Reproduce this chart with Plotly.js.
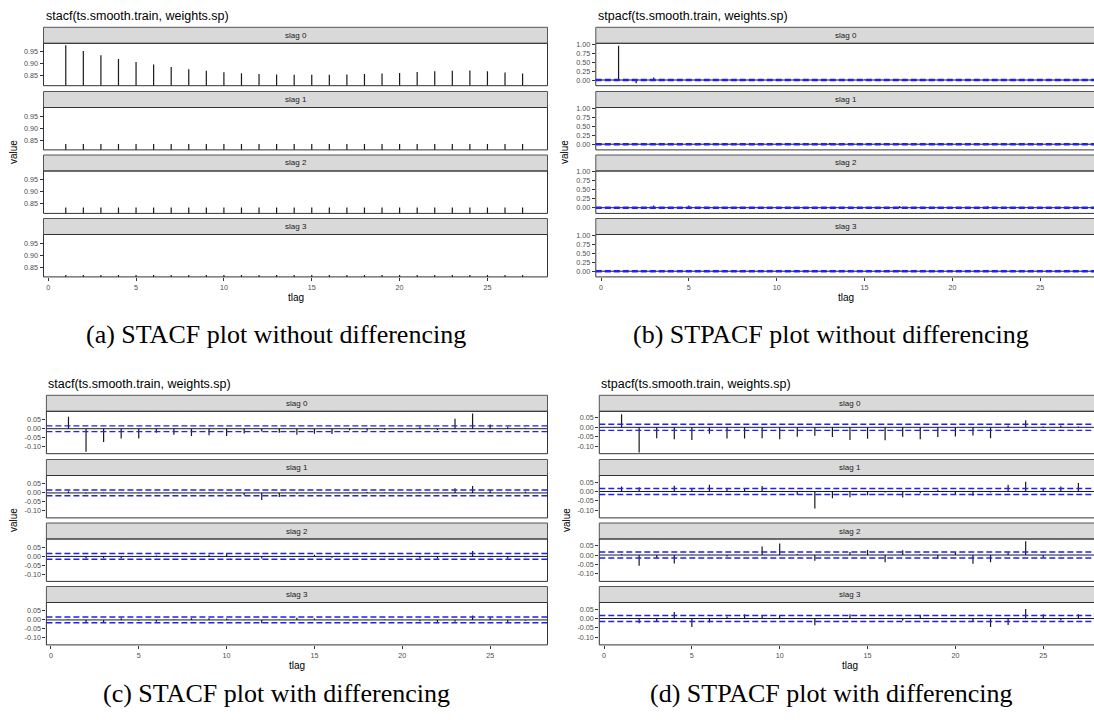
<!DOCTYPE html>
<html><head><meta charset="utf-8">
<script src="https://cdn.plot.ly/plotly-3.0.1.min.js"></script>
<style>html,body{margin:0;padding:0;background:#fff;}#chart{width:1094px;height:720px;}</style>
</head><body><div id="chart"></div>
<script>
// ---------- data ----------
const lags = [1,2,3,4,5,6,7,8,9,10,11,12,13,14,15,16,17,18,19,20,21,22,23,24,25,26,27];
const slagLabels = ['slag 0','slag 1','slag 2','slag 3'];
const xTickVals = [0,5,10,15,20,25];
const xTickText = ['0','5','10','15','20','25'];

const stacfRawTicks = [0.85,0.90,0.95];
const stacfRawTickText = ['0.85','0.90','0.95'];
const stpacfRawTicks = [0,0.25,0.5,0.75,1];
const stpacfRawTickText = ['0.00','0.25','0.50','0.75','1.00'];
const diffTicks = [-0.10,-0.05,0,0.05];
const diffTickText = ['-0.10','-0.05','0.00','0.05'];
const confBound = 0.016;

// (a) STACF without differencing
const stacfRaw0 = [0.978,0.954,0.936,0.920,0.908,0.897,0.887,0.878,0.871,0.865,0.861,0.858,0.856,0.855,0.855,0.855,0.856,0.858,0.860,0.862,0.866,0.869,0.871,0.872,0.869,0.864,0.860];
const stacfRaw1 = [0.834,0.834,0.834,0.834,0.834,0.834,0.834,0.834,0.834,0.834,0.834,0.834,0.834,0.834,0.834,0.834,0.834,0.834,0.834,0.834,0.834,0.834,0.834,0.834,0.834,0.834,0.834];
const stacfRaw2 = [0.834,0.834,0.834,0.834,0.834,0.834,0.834,0.834,0.834,0.834,0.834,0.834,0.834,0.834,0.834,0.834,0.834,0.834,0.834,0.834,0.834,0.834,0.834,0.834,0.834,0.834,0.834];
const stacfRaw3 = [0.817,0.817,0.817,0.817,0.817,0.817,0.817,0.817,0.817,0.817,0.817,0.817,0.817,0.817,0.817,0.817,0.817,0.817,0.817,0.817,0.817,0.817,0.817,0.817,0.817,0.817,0.817];

// (b) STPACF without differencing
const stpacfRaw0 = [0.955,-0.09,0.07,0.004,0.003,0.002,0.003,0.002,0.003,0.004,0.012,0.003,0.002,0.004,0.012,0.010,0.015,0.004,0.010,0.008,0.010,0.012,0.010,0.004,0.006,0.003,0.004];
const stpacfRaw1 = [0.010,0.002,0.003,0.002,0.003,0.004,-0.030,0.003,0.002,-0.012,0.003,0.004,0.035,0.003,0.002,0.008,0.010,0.002,0.003,0.004,0.012,0.002,0.003,0.002,0.004,-0.015,-0.025];
const stpacfRaw2 = [0.010,0.002,0.060,0.003,0.060,0.002,-0.020,0.020,0.003,-0.012,-0.030,0.002,0.003,0.004,0.002,0.003,0.050,0.002,0.003,0.010,0.002,0.040,0.002,0.003,-0.035,0.002,-0.025];
const stpacfRaw3 = [0.002,0.003,0.012,0.002,0.003,0.008,0.002,0.003,0.002,0.003,-0.010,0.002,0.010,0.003,0.002,0.003,0.025,0.002,0.003,0.002,0.003,0.020,0.015,0.003,-0.025,0.002,-0.020];

// (c) STACF with differencing
const stacfDiff0 = [0.067,-0.128,-0.074,-0.054,-0.055,-0.022,-0.033,-0.040,-0.037,-0.040,-0.026,-0.015,-0.022,-0.033,-0.028,-0.030,-0.009,-0.011,-0.005,-0.002,0.011,-0.007,0.055,0.085,0.024,0.011,0.006];
const stacfDiff1 = [0.010,-0.004,0.002,0.001,-0.002,0.001,0.002,0.001,0.002,-0.005,-0.013,-0.040,-0.022,-0.005,0.002,0.001,0.002,0.005,0.002,0.001,0.002,0.001,0.026,0.039,0.015,0.002,0.008];
const stacfDiff2 = [0.002,-0.012,-0.010,-0.010,0.002,0.005,0.001,0.002,0.010,0.018,0.001,-0.012,0.001,0.002,0.010,-0.008,0.001,0.002,-0.005,0.001,-0.010,-0.012,0.002,0.030,-0.005,-0.012,-0.005];
const stacfDiff3 = [0.002,-0.012,-0.012,0.010,-0.005,-0.010,0.002,0.010,0.010,0.008,0.001,-0.018,0.001,0.012,0.008,0.001,-0.003,0.001,0.002,0.001,-0.008,-0.018,-0.010,0.025,0.015,-0.012,-0.005];

// (d) STPACF with differencing
const stpacfDiff0 = [0.070,-0.133,-0.058,-0.063,-0.067,-0.034,-0.059,-0.059,-0.058,-0.063,-0.050,-0.045,-0.052,-0.067,-0.061,-0.068,-0.050,-0.063,-0.052,-0.049,-0.043,-0.058,0.009,0.038,0.005,0.009,0.004];
const stpacfDiff1 = [0.027,0.023,0.002,0.030,0.014,0.036,0.014,0.016,0.029,0.002,-0.018,-0.090,-0.036,-0.031,-0.020,-0.005,-0.032,-0.009,0.009,-0.018,-0.022,-0.005,0.036,0.052,0.020,0.027,0.045];
const stpacfDiff2 = [0.005,-0.057,-0.018,-0.045,0.001,0.003,-0.008,0.001,0.045,0.061,0.005,-0.030,0.001,0.016,0.027,-0.039,0.025,0.004,-0.021,0.016,-0.047,-0.038,0.013,0.073,-0.013,-0.003,0.001];
const stpacfDiff3 = [0.001,-0.025,-0.016,0.034,-0.045,-0.021,0.011,0.023,0.018,0.018,0.001,-0.036,0.001,0.023,0.003,0.001,-0.011,0.020,0.001,0.001,-0.014,-0.045,-0.034,0.050,0.022,-0.009,0.022];

const titleA = 'stacf(ts.smooth.train, weights.sp)';
const titleB = 'stpacf(ts.smooth.train, weights.sp)';
const captions = ['(a) STACF plot without differencing','(b) STPACF plot without differencing','(c) STACF plot with differencing','(d) STPACF plot with differencing'];

// ---------- layout geometry ----------
const W = 1094, H = 720;
const px = v => v / W;
const py = v => 1 - v / H;
const LAG_PX = 17.57;
const STRIP_TOPS = [27.3, 91.5, 155, 218.5];
const STRIP_H = 16, PANEL_H = 42.4;

const charts = [
  {title:titleA, caption:captions[0], series:[stacfRaw0,stacfRaw1,stacfRaw2,stacfRaw3], ticks:stacfRawTicks, tickText:stacfRawTickText, yRange:[0.809,0.986], bounds:false, left:43.5, right:547.5, zeroPx:48.2, yOff:0, valueX:13, capX:276, capY:334},
  {title:titleB, caption:captions[1], series:[stpacfRaw0,stpacfRaw1,stpacfRaw2,stpacfRaw3], ticks:stpacfRawTicks, tickText:stpacfRawTickText, yRange:[-0.158,1.02], bounds:true, left:595.8, right:1097, zeroPx:601.0, yOff:0, valueX:564, capX:831, capY:334},
  {title:titleA, caption:captions[2], series:[stacfDiff0,stacfDiff1,stacfDiff2,stacfDiff3], ticks:diffTicks, tickText:diffTickText, yRange:[-0.139,0.097], bounds:true, left:46.4, right:547.5, zeroPx:50.9, yOff:368, valueX:13, capX:276, capY:693},
  {title:titleB, caption:captions[3], series:[stpacfDiff0,stpacfDiff1,stpacfDiff2,stpacfDiff3], ticks:diffTicks, tickText:diffTickText, yRange:[-0.14,0.085], bounds:true, left:599.3, right:1100, zeroPx:604.0, yOff:368, valueX:566, capX:831, capY:693}
];

const FONT = 'Liberation Sans, Arial, sans-serif';
const traces = [];
const layout = {
  width: W, height: H, margin:{l:0,r:0,t:0,b:0},
  paper_bgcolor:'#ffffff', plot_bgcolor:'rgba(0,0,0,0)',
  showlegend:false, shapes:[], annotations:[],
  font:{family:FONT, color:'#1a1a1a'}
};

charts.forEach((c, ci) => {
  const rightPx = c.right;
  const domRight = Math.min(rightPx, W);
  const xRange = [(c.left - c.zeroPx)/LAG_PX, (domRight - c.zeroPx)/LAG_PX];
  c.series.forEach((vals, f) => {
    const n = ci*4 + f + 1;
    const xa = n === 1 ? 'x' : 'x'+n;
    const ya = n === 1 ? 'y' : 'y'+n;
    const stripTop = STRIP_TOPS[f] + c.yOff;
    const panelTop = stripTop + STRIP_H;
    const panelBot = panelTop + PANEL_H;
    const isBottom = f === 3;

    layout[n===1?'xaxis':'xaxis'+n] = {
      domain:[px(c.left), px(domRight)], range:xRange, anchor:ya,
      showgrid:false, zeroline:false, showline:false,
      tickvals:xTickVals, ticktext:xTickText,
      ticks: isBottom ? 'outside' : '', ticklen:3, tickwidth:1, tickcolor:'#333333',
      showticklabels:isBottom,
      tickfont:{size:7.2, color:'#4d4d4d', family:FONT}, fixedrange:true
    };
    layout[n===1?'yaxis':'yaxis'+n] = {
      domain:[py(panelBot), py(panelTop)], range:c.yRange, anchor:xa,
      showgrid:false, zeroline:false, showline:false,
      tickvals:c.ticks, ticktext:c.tickText,
      ticks:'outside', ticklen:3, tickwidth:1, tickcolor:'#333333',
      tickfont:{size:7.2, color:'#4d4d4d', family:FONT}, fixedrange:true
    };

    // segments from 0 to value
    const sx = [], sy = [];
    lags.forEach((l, i) => { sx.push(l, l, null); sy.push(0, vals[i], null); });
    traces.push({type:'scatter', mode:'lines', x:sx, y:sy, xaxis:xa, yaxis:ya,
      line:{color:'#1a1a1a', width:1.2}, hoverinfo:'skip'});

    // strip
    layout.shapes.push({type:'rect', xref:'paper', yref:'paper',
      x0:px(c.left), x1:px(rightPx), y0:py(panelTop), y1:py(stripTop),
      fillcolor:'#d9d9d9', line:{color:'#555555', width:1}, layer:'below'});
    layout.annotations.push({xref:'paper', yref:'paper', x:px((c.left+rightPx)/2), y:py(stripTop+STRIP_H/2),
      text:slagLabels[f], showarrow:false, xanchor:'center', yanchor:'middle',
      font:{size:8, color:'#1a1a1a', family:FONT}});

    // zero line + confidence bounds
    const dref = (n===1?'x':'x'+n) + ' domain';
    if (c.bounds) {
      layout.shapes.push({type:'line', xref:dref, yref:ya, x0:0, x1:1, y0:0, y1:0,
        line:{color:'#1a1a1a', width:1}});
      [confBound, -confBound].forEach(b => layout.shapes.push({type:'line', xref:dref, yref:ya,
        x0:0, x1:1, y0:b, y1:b, line:{color:'#1f1fff', width:1.4, dash:'6px,3px'}}));
    }
    // panel border
    layout.shapes.push({type:'rect', xref:'paper', yref:'paper',
      x0:px(c.left), x1:px(rightPx), y0:py(panelBot), y1:py(panelTop),
      fillcolor:'rgba(0,0,0,0)', line:{color:'#333333', width:1}});
  });

  const centerPx = (c.left + c.right)/2;
  layout.annotations.push({xref:'paper', yref:'paper', x:px(c.left), y:py(c.yOff+15.5),
    text:c.title, showarrow:false, xanchor:'left', yanchor:'middle',
    font:{size:12.5, color:'#000000', family:FONT}});
  layout.annotations.push({xref:'paper', yref:'paper', x:px(c.valueX), y:py(c.yOff+152),
    text:'value', textangle:-90, showarrow:false, xanchor:'center', yanchor:'middle',
    font:{size:10, color:'#000000', family:FONT}});
  layout.annotations.push({xref:'paper', yref:'paper', x:px(centerPx), y:py(c.yOff+297),
    text:'tlag', showarrow:false, xanchor:'center', yanchor:'middle',
    font:{size:10, color:'#000000', family:FONT}});
  layout.annotations.push({xref:'paper', yref:'paper', x:px(c.capX), y:py(c.capY),
    text:c.caption, showarrow:false, xanchor:'center', yanchor:'middle',
    font:{size:26, color:'#000000', family:'Liberation Serif, Times New Roman, serif'}});
});

Plotly.newPlot('chart', traces, layout, {staticPlot:true, displayModeBar:false});
</script>
</body></html>
